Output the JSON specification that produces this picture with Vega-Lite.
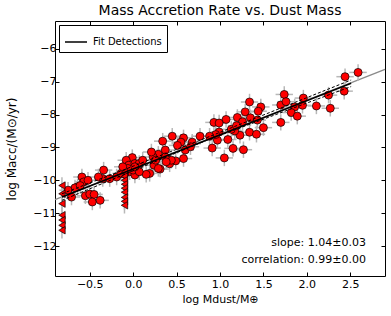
{
"$schema":"https://vega.github.io/schema/vega-lite/v6.json",
"width":330,"height":255,
"autosize":{"type":"none"},
"padding":{"left":55,"top":21,"right":6,"bottom":40},
"title":{"text":"Mass Accretion Rate vs. Dust Mass","fontSize":14,"fontWeight":"normal","font":"DejaVu Sans","color":"black","offset":3,"anchor":"middle"},
"config":{"font":"DejaVu Sans","view":{"stroke":"black","strokeWidth":1},
"axis":{"domain":false,"grid":false,"ticks":true,"tickColor":"black","tickSize":-4,"labelFontSize":11,"labelColor":"black","labelFont":"DejaVu Sans","titleFont":"DejaVu Sans","titleFontWeight":"normal","titleFontSize":11,"titleColor":"black"}},
"datasets":{
"full":[{"x":-0.9,"y":-10.59},{"x":2.9,"y":-6.63}],
"fit":[{"x":-0.82,"y":-10.51,"s":"Fit Detections"},{"x":2.51,"y":-7.05,"s":"Fit Detections"}],
"band":[{"x":-0.82,"y":-10.41,"b":"u"},{"x":0.85,"y":-8.7,"b":"u"},{"x":2.51,"y":-6.95,"b":"u"},{"x":-0.82,"y":-10.61,"b":"l"},{"x":0.85,"y":-8.78,"b":"l"},{"x":2.51,"y":-7.15,"b":"l"}],
"ann":[{"x":2.68,"y":-11.92,"t":"slope: 1.04±0.03"},{"x":2.68,"y":-12.43,"t":"correlation: 0.99±0.00"}],
"lims":[{"x":-0.82,"y":-10.16,"ye":0.25},{"x":-0.82,"y":-10.41,"ye":0.25},{"x":-0.82,"y":-10.71,"ye":0.25},{"x":-0.82,"y":-11.06,"ye":0.25},{"x":-0.82,"y":-11.21,"ye":0.25},{"x":-0.82,"y":-11.37,"ye":0.25},{"x":-0.82,"y":-11.52,"ye":0.25},
{"x":-0.1,"y":-9.75,"ye":0.25},{"x":-0.1,"y":-9.88,"ye":0.25},{"x":-0.1,"y":-10.0,"ye":0.25},{"x":-0.1,"y":-10.12,"ye":0.25},{"x":-0.1,"y":-10.24,"ye":0.25},{"x":-0.1,"y":-10.36,"ye":0.25},{"x":-0.1,"y":-10.52,"ye":0.25},{"x":-0.1,"y":-10.64,"ye":0.25},{"x":-0.1,"y":-10.76,"ye":0.25}],
"pts":[
{"x":2.59,"y":-6.72,"xe":0.1,"ye":0.25},{"x":2.44,"y":-6.85,"xe":0.1,"ye":0.25},{"x":2.43,"y":-7.29,"xe":0.1,"ye":0.25},{"x":2.25,"y":-7.41,"xe":0.1,"ye":0.25},{"x":2.27,"y":-7.81,"xe":0.1,"ye":0.25},{"x":2.11,"y":-7.74,"xe":0.1,"ye":0.25},{"x":1.74,"y":-7.39,"xe":0.1,"ye":0.25},{"x":1.70,"y":-7.71,"xe":0.1,"ye":0.25},{"x":1.76,"y":-7.61,"xe":0.1,"ye":0.25},{"x":1.96,"y":-7.50,"xe":0.1,"ye":0.25},
{"x":1.95,"y":-7.72,"xe":0.1,"ye":0.25},{"x":1.86,"y":-7.77,"xe":0.1,"ye":0.25},{"x":1.82,"y":-7.94,"xe":0.1,"ye":0.25},{"x":1.89,"y":-8.05,"xe":0.1,"ye":0.25},{"x":1.70,"y":-8.24,"xe":0.1,"ye":0.25},{"x":1.34,"y":-7.62,"xe":0.1,"ye":0.25},{"x":1.47,"y":-7.77,"xe":0.1,"ye":0.25},{"x":1.29,"y":-7.92,"xe":0.1,"ye":0.25},{"x":1.44,"y":-7.90,"xe":0.1,"ye":0.25},{"x":1.20,"y":-8.09,"xe":0.1,"ye":0.25},
{"x":1.35,"y":-8.10,"xe":0.1,"ye":0.25},{"x":1.07,"y":-8.15,"xe":0.1,"ye":0.25},{"x":0.93,"y":-8.24,"xe":0.1,"ye":0.25},{"x":0.99,"y":-8.26,"xe":0.1,"ye":0.25},{"x":1.26,"y":-8.22,"xe":0.1,"ye":0.25},{"x":1.43,"y":-8.17,"xe":0.1,"ye":0.25},{"x":1.50,"y":-8.40,"xe":0.1,"ye":0.25},{"x":1.34,"y":-8.54,"xe":0.1,"ye":0.25},{"x":1.42,"y":-8.60,"xe":0.1,"ye":0.25},{"x":1.23,"y":-8.63,"xe":0.1,"ye":0.25},
{"x":1.17,"y":-8.50,"xe":0.1,"ye":0.25},{"x":1.13,"y":-8.45,"xe":0.1,"ye":0.25},{"x":1.19,"y":-8.34,"xe":0.1,"ye":0.25},{"x":0.99,"y":-8.53,"xe":0.1,"ye":0.25},{"x":0.97,"y":-8.78,"xe":0.1,"ye":0.25},{"x":1.09,"y":-8.76,"xe":0.1,"ye":0.25},{"x":0.95,"y":-8.61,"xe":0.1,"ye":0.25},{"x":0.88,"y":-8.66,"xe":0.1,"ye":0.25},{"x":0.77,"y":-8.66,"xe":0.1,"ye":0.25},{"x":0.91,"y":-9.02,"xe":0.1,"ye":0.25},
{"x":1.15,"y":-9.03,"xe":0.1,"ye":0.25},{"x":1.27,"y":-9.07,"xe":0.1,"ye":0.25},{"x":1.05,"y":-9.32,"xe":0.1,"ye":0.25},{"x":0.68,"y":-8.84,"xe":0.1,"ye":0.25},{"x":0.58,"y":-8.71,"xe":0.1,"ye":0.25},{"x":0.55,"y":-8.84,"xe":0.1,"ye":0.25},{"x":0.45,"y":-8.66,"xe":0.1,"ye":0.25},{"x":0.34,"y":-8.81,"xe":0.1,"ye":0.25},{"x":0.51,"y":-8.94,"xe":0.1,"ye":0.25},{"x":0.37,"y":-9.08,"xe":0.1,"ye":0.25},
{"x":0.58,"y":-9.34,"xe":0.1,"ye":0.25},{"x":0.49,"y":-9.41,"xe":0.1,"ye":0.25},{"x":0.42,"y":-9.50,"xe":0.1,"ye":0.25},{"x":0.29,"y":-9.21,"xe":0.1,"ye":0.25},{"x":0.23,"y":-9.29,"xe":0.1,"ye":0.25},{"x":0.21,"y":-9.14,"xe":0.1,"ye":0.25},{"x":0.24,"y":-9.54,"xe":0.1,"ye":0.25},{"x":0.31,"y":-9.66,"xe":0.1,"ye":0.25},{"x":0.19,"y":-9.79,"xe":0.1,"ye":0.25},{"x":0.44,"y":-9.39,"xe":0.1,"ye":0.25},
{"x":0.60,"y":-9.08,"xe":0.1,"ye":0.25},{"x":0.66,"y":-8.98,"xe":0.1,"ye":0.25},{"x":0.37,"y":-9.29,"xe":0.1,"ye":0.25},{"x":0.26,"y":-9.39,"xe":0.1,"ye":0.25},{"x":-0.34,"y":-9.69,"xe":0.1,"ye":0.25},{"x":-0.59,"y":-9.90,"xe":0.1,"ye":0.25},{"x":-0.57,"y":-10.05,"xe":0.1,"ye":0.25},{"x":-0.52,"y":-10.00,"xe":0.1,"ye":0.25},{"x":-0.64,"y":-10.20,"xe":0.1,"ye":0.25},{"x":-0.67,"y":-10.23,"xe":0.1,"ye":0.25},
{"x":-0.71,"y":-10.51,"xe":0.1,"ye":0.25},{"x":-0.55,"y":-10.47,"xe":0.1,"ye":0.25},{"x":-0.50,"y":-10.42,"xe":0.1,"ye":0.25},{"x":-0.45,"y":-10.43,"xe":0.1,"ye":0.25},{"x":-0.47,"y":-10.66,"xe":0.1,"ye":0.25},{"x":-0.38,"y":-10.61,"xe":0.1,"ye":0.25},{"x":-0.01,"y":-9.31,"xe":0.1,"ye":0.25},{"x":-0.08,"y":-9.39,"xe":0.1,"ye":0.25},{"x":-0.05,"y":-9.54,"xe":0.1,"ye":0.25},{"x":0.02,"y":-9.49,"xe":0.1,"ye":0.25},
{"x":-0.04,"y":-9.74,"xe":0.1,"ye":0.25},{"x":0.02,"y":-9.84,"xe":0.1,"ye":0.25},{"x":-0.10,"y":-9.82,"xe":0.1,"ye":0.25},{"x":-0.35,"y":-9.95,"xe":0.1,"ye":0.25},{"x":-0.40,"y":-9.90,"xe":0.1,"ye":0.25},{"x":-0.27,"y":-9.95,"xe":0.1,"ye":0.25},{"x":-0.19,"y":-9.90,"xe":0.1,"ye":0.25},{"x":-0.14,"y":-9.79,"xe":0.1,"ye":0.25},{"x":-0.61,"y":-10.16,"xe":0.1,"ye":0.25},{"x":-0.75,"y":-10.30,"xe":0.1,"ye":0.25},
{"x":0.15,"y":-9.82,"xe":0.1,"ye":0.25},{"x":0.00,"y":-9.69,"xe":0.1,"ye":0.25},{"x":0.07,"y":-9.74,"xe":0.1,"ye":0.25},{"x":-0.06,"y":-9.64,"xe":0.1,"ye":0.25},{"x":0.38,"y":-9.44,"xe":0.1,"ye":0.25},{"x":-0.12,"y":-9.59,"xe":0.1,"ye":0.25},{"x":0.07,"y":-9.49,"xe":0.1,"ye":0.25},{"x":0.02,"y":-9.59,"xe":0.1,"ye":0.25},{"x":0.11,"y":-9.39,"xe":0.1,"ye":0.25},{"x":0.29,"y":-9.64,"xe":0.1,"ye":0.25}
]},
"encoding":{
"x":{"field":"x","type":"quantitative","scale":{"domain":[-0.9,2.9],"nice":false,"zero":false},"axis":null},
"y":{"field":"y","type":"quantitative","scale":{"domain":[-12.91,-5.157],"nice":false,"zero":false},"axis":null}},
"layer":[
{"data":{"name":"full"},"mark":{"type":"line","color":"#8a8a8a","strokeWidth":1.3},
"encoding":{
"x":{"field":"x","type":"quantitative","scale":{"domain":[-0.9,2.9],"nice":false,"zero":false},"axis":{"orient":"bottom","values":[-0.5,0,0.5,1,1.5,2,2.5],"format":".1f","labelPadding":6,"title":"log Mdust/M⊕","titlePadding":4}},
"y":{"field":"y","type":"quantitative","scale":{"domain":[-12.91,-5.157],"nice":false,"zero":false},"axis":{"orient":"left","values":[-12,-11,-10,-9,-8,-7,-6],"format":"d","labelPadding":3,"title":"log Ṁacc/(M⊙/yr)","titlePadding":14,"titleFontSize":12}}}},
{"data":{"name":"pts"},"mark":{"type":"errorbar","color":"#b8b8b8","thickness":1.5},"encoding":{"xError":{"field":"xe"}}},
{"data":{"name":"pts"},"mark":{"type":"errorbar","color":"#b8b8b8","thickness":1.5},"encoding":{"yError":{"field":"ye"}}},
{"data":{"name":"lims"},"mark":{"type":"errorbar","color":"#b8b8b8","thickness":1.5},"encoding":{"yError":{"field":"ye"}}},
{"data":{"name":"pts"},"mark":{"type":"circle","fill":"#ff0000","stroke":"black","strokeWidth":0.7,"size":64,"opacity":1}},
{"data":{"name":"lims"},"mark":{"type":"point","shape":"triangle-left","filled":true,"fill":"#ff0000","stroke":"black","strokeWidth":0.7,"size":55,"opacity":1}},
{"data":{"name":"band"},"mark":{"type":"line","color":"black","strokeWidth":1,"strokeDash":[3,2]},"encoding":{"detail":{"field":"b"}}},
{"data":{"name":"fit"},"mark":{"type":"line","strokeWidth":1.5},
"encoding":{
"x":{"field":"x","type":"quantitative","scale":{"domain":[-0.9,2.9],"nice":false,"zero":false},"axis":{"orient":"top","values":[-0.5,0,0.5,1,1.5,2,2.5],"labels":false,"title":null}},
"y":{"field":"y","type":"quantitative","scale":{"domain":[-12.91,-5.157],"nice":false,"zero":false},"axis":{"orient":"right","values":[-12,-11,-10,-9,-8,-7,-6],"labels":false,"title":null}},
"stroke":{"field":"s","type":"nominal","scale":{"domain":["Fit Detections"],"range":["black"]},"legend":{"orient":"top-left","title":null,"offset":4,"padding":5,"strokeColor":"black","fillColor":"white","cornerRadius":0,"symbolType":"stroke","symbolSize":484,"symbolStrokeWidth":1.5,"symbolStrokeColor":"black","labelFontSize":10,"labelFont":"DejaVu Sans","labelColor":"black","labelOffset":5}}}},
{"data":{"name":"ann"},"mark":{"type":"text","align":"right","baseline":"middle","fontSize":11,"font":"DejaVu Sans","color":"black"},"encoding":{"text":{"field":"t","type":"nominal"}}}
],
"resolve":{"axis":{"x":"independent","y":"independent"}}
}
